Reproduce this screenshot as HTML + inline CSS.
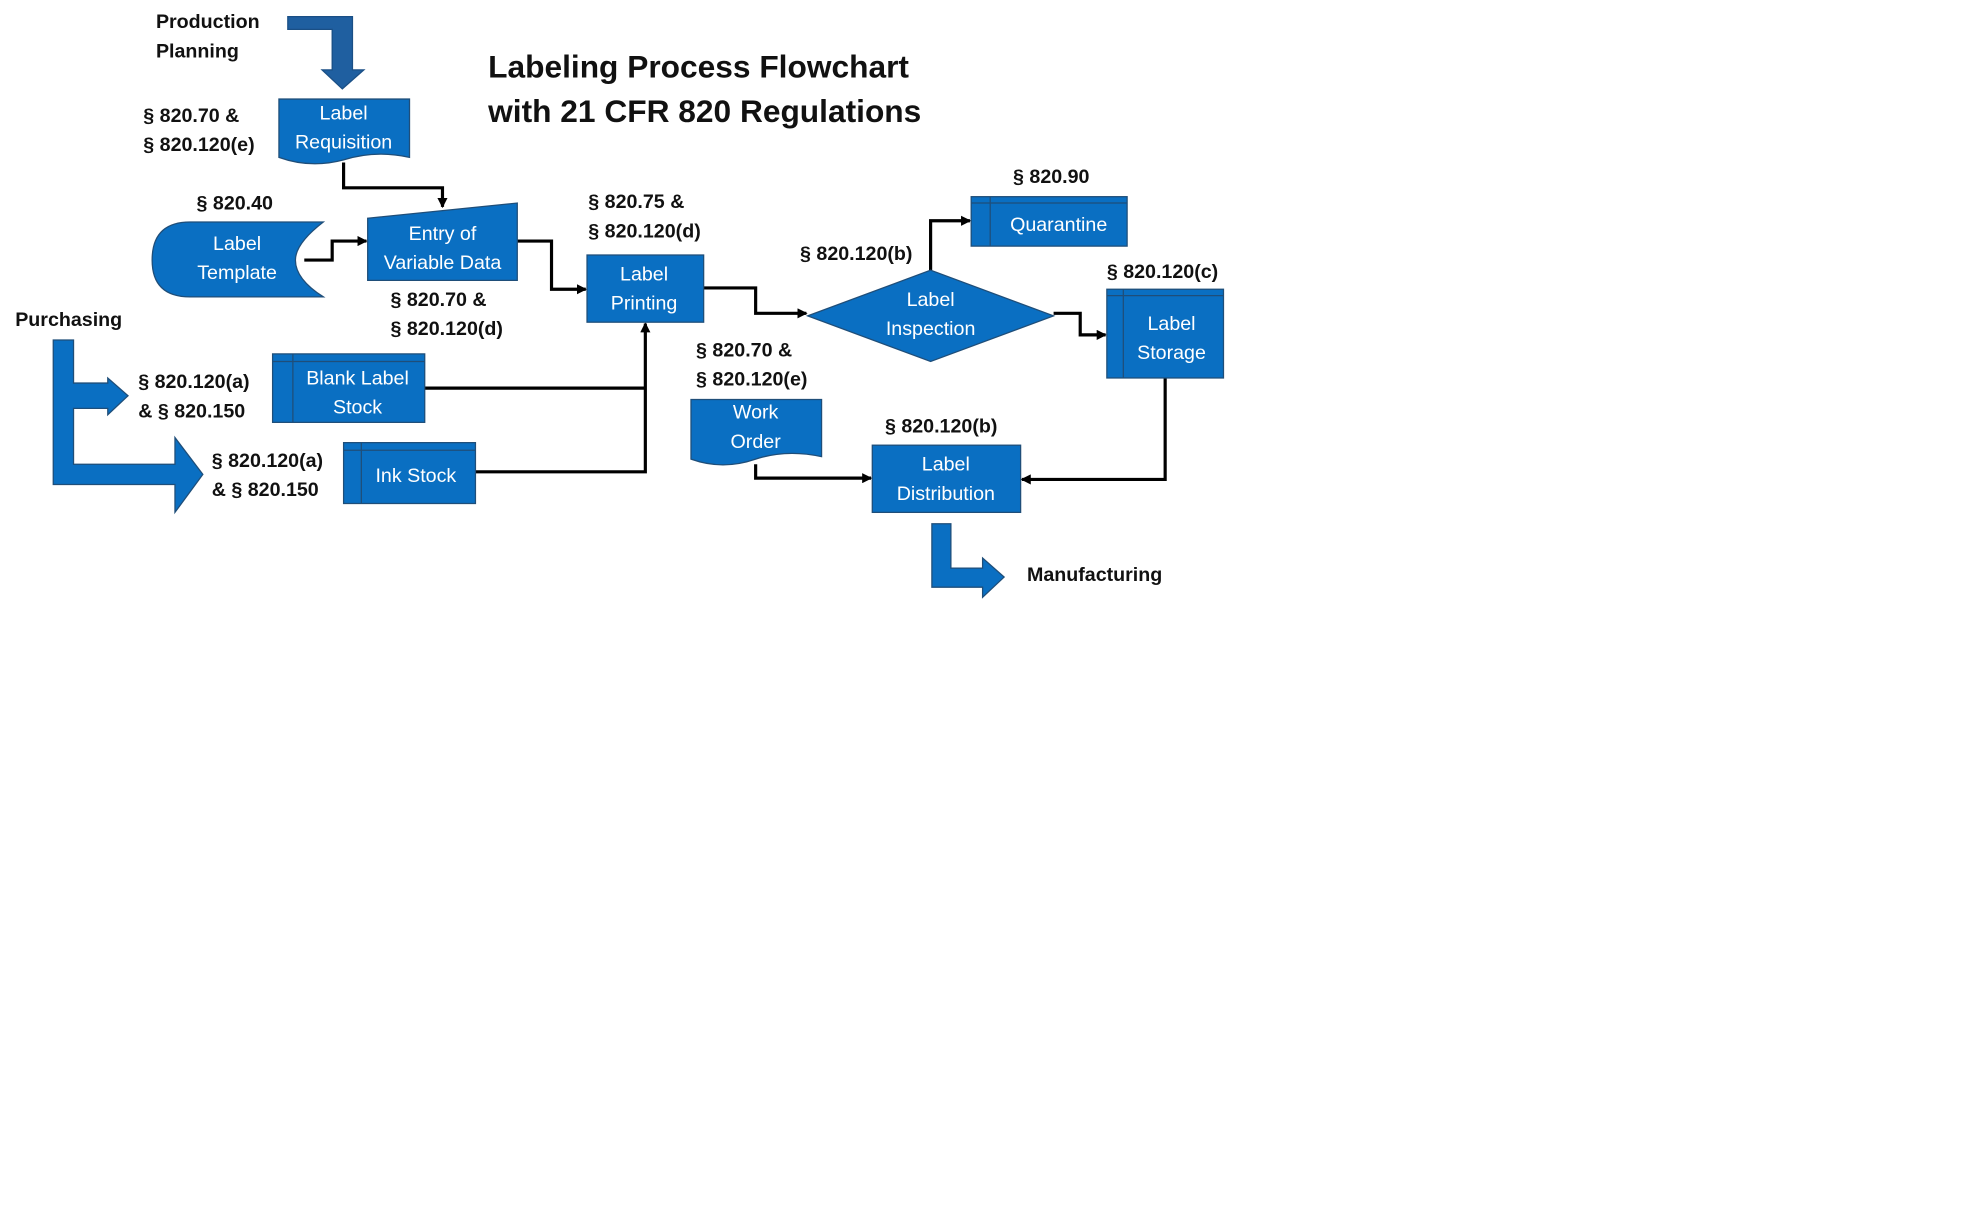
<!DOCTYPE html>
<html><head><style>html,body{margin:0;padding:0;background:#fff}svg{display:block}</style></head><body>
<svg width="1988" height="1220" viewBox="0 0 1568 962" xmlns="http://www.w3.org/2000/svg">
<defs><marker id="a" markerWidth="8" markerHeight="8" refX="7" refY="4" orient="auto" markerUnits="userSpaceOnUse"><path d="M0,0 L8,4 L0,8 z" fill="#000"/></marker></defs>
<rect width="1568" height="962" fill="#fff"/>
<g font-family="Liberation Sans, sans-serif" font-weight="bold" font-size="15.5" fill="#111" dominant-baseline="middle">
<text x="123" y="18">Production</text><text x="123" y="41">Planning</text>
<text x="113" y="92">§ 820.70 &amp;</text><text x="113" y="115">§ 820.120(e)</text>
<text x="155" y="161">§ 820.40</text>
<text x="308" y="237">§ 820.70 &amp;</text><text x="308" y="260">§ 820.120(d)</text>
<text x="464" y="160">§ 820.75 &amp;</text><text x="464" y="183">§ 820.120(d)</text>
<text x="631" y="201">§ 820.120(b)</text>
<text x="799" y="140">§ 820.90</text>
<text x="873" y="215">§ 820.120(c)</text>
<text x="12" y="253">Purchasing</text>
<text x="109" y="302">§ 820.120(a)</text><text x="109" y="325">&amp; § 820.150</text>
<text x="167" y="364">§ 820.120(a)</text><text x="167" y="387">&amp; § 820.150</text>
<text x="549" y="277">§ 820.70 &amp;</text><text x="549" y="300">§ 820.120(e)</text>
<text x="698" y="337">§ 820.120(b)</text>
<text x="810" y="454">Manufacturing</text>
</g>
<g font-family="Liberation Sans, sans-serif" font-weight="bold" font-size="25" fill="#111">
<text x="385" y="61">Labeling Process Flowchart</text>
<text x="385" y="96">with 21 CFR 820 Regulations</text>
</g>
<!-- big arrows -->
<path d="M227,13 H278 V55 H287 L270,70 L254,55 H262 V23 H227 Z" fill="#1f5fa0" stroke="#1a4f85"/>
<path d="M42,268 H58 V302 H85 V298 L101,312 L85,327 V322 H58 V366 H138 V345 L160,374 L138,404 V382 H42 Z" fill="#0a6fc2" stroke="#1f4e79"/>
<path d="M735,413 H750 V448 H775 V440 L792,455 L775,471 V463 H735 Z" fill="#0a6fc2" stroke="#1f4e79"/>
<!-- connectors -->
<g stroke="#000" stroke-width="2.5" fill="none" marker-end="url(#a)">
<path d="M271,128 V148 H349 V163"/>
<path d="M240,205 H262 V190 H289"/>
<path d="M408,190 H435 V228 H462"/>
<path d="M555,227 H596 V247 H636"/>
<path d="M734,213 V174 H765"/>
<path d="M831,247 H852 V264 H872"/>
<path d="M919,298 V378 H806"/>
<path d="M596,366 V377 H687"/>
<path d="M375,372 H509 V255"/>
</g>
<path d="M335,306 H509" stroke="#000" stroke-width="2.5"/>
<!-- shapes -->
<g fill="#0a6fc2" stroke="#1f4e79" stroke-width="1">
<path d="M220,78 H323 V124 Q296,118 271,126 Q245,133 220,124 Z"/>
<path d="M150,175 H255 Q233,192 233,205 Q233,220 255,234 H150 Q120,234 120,205 Q120,175 150,175 Z"/>
<path d="M290,172 L408,160 V221 H290 Z"/>
<rect x="463" y="201" width="92" height="53"/>
<path d="M637,249 L734,213 L831,249 L734,285 Z"/>
<rect x="766" y="155" width="123" height="39"/>
<rect x="873" y="228" width="92" height="70"/>
<rect x="215" y="279" width="120" height="54"/>
<rect x="271" y="349" width="104" height="48"/>
<path d="M545,315 H648 V360 Q620,354 596,362 Q570,371 545,362 Z"/>
<rect x="688" y="351" width="117" height="53"/>
</g>
<g stroke="#1f4e79" stroke-width="1">
<path d="M766,160 H889 M781,155 V194"/>
<path d="M873,233 H965 M886,228 V298"/>
<path d="M215,285 H335 M231,279 V333"/>
<path d="M271,355 H375 M285,349 V397"/>
</g>
<g font-family="Liberation Sans, sans-serif" font-size="15.5" fill="#fff" text-anchor="middle" dominant-baseline="middle">
<text x="271" y="90">Label</text><text x="271" y="113">Requisition</text>
<text x="187" y="193">Label</text><text x="187" y="216">Template</text>
<text x="349" y="185">Entry of</text><text x="349" y="208">Variable Data</text>
<text x="508" y="217">Label</text><text x="508" y="240">Printing</text>
<text x="734" y="237">Label</text><text x="734" y="260">Inspection</text>
<text x="835" y="178">Quarantine</text>
<text x="924" y="256">Label</text><text x="924" y="279">Storage</text>
<text x="282" y="299">Blank Label</text><text x="282" y="322">Stock</text>
<text x="328" y="376">Ink Stock</text>
<text x="596" y="326">Work</text><text x="596" y="349">Order</text>
<text x="746" y="367">Label</text><text x="746" y="390">Distribution</text>
</g>
</svg>
</body></html>
